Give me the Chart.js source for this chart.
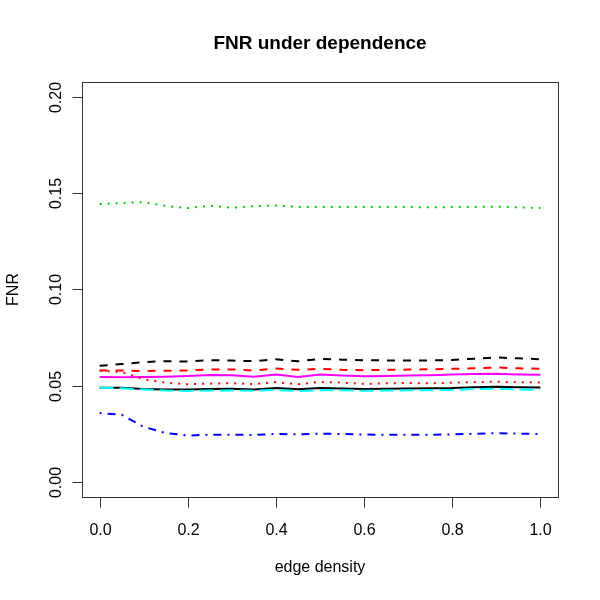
<!DOCTYPE html>
<html>
<head>
<meta charset="utf-8">
<script src="https://cdn.jsdelivr.net/npm/chart.js@4/dist/chart.umd.min.js"></script>
<style>
  html,body{margin:0;padding:0;background:#fff;}
  #wrap{width:600px;height:600px;}
</style>
</head>
<body>
<div id="wrap"><canvas id="c" width="600" height="600"></canvas></div>
<script>
// edge density grid
const density = [0,0.05,0.1,0.15,0.2,0.25,0.3,0.35,0.4,0.45,0.5,0.55,0.6,0.65,0.7,0.75,0.8,0.85,0.9,0.95,1.0];
const xTicks = [0,0.2,0.4,0.6,0.8,1.0];
const xTickLabels = ['0.0','0.2','0.4','0.6','0.8','1.0'];
const yTicks = [0,0.05,0.1,0.15,0.2];
const yTickLabels = ['0.00','0.05','0.10','0.15','0.20'];

// FNR curves, in matplot column order
const fnrBlackSolid = [0.0489,0.0489,0.0482,0.0479,0.0480,0.0482,0.0484,0.0480,0.0487,0.0481,0.0487,0.0485,0.0482,0.0484,0.0485,0.0486,0.0487,0.0491,0.0494,0.0491,0.0490];
const fnrRedDashed = [0.0578,0.0578,0.0576,0.0577,0.0579,0.0583,0.0584,0.0578,0.0589,0.0582,0.0587,0.0582,0.0580,0.0582,0.0583,0.0585,0.0587,0.0590,0.0594,0.0590,0.0587];
const fnrGreenDotted = [0.1445,0.1450,0.1455,0.1435,0.1424,0.1436,0.1425,0.1434,0.1437,0.1430,0.1430,0.1430,0.1430,0.1429,0.1429,0.1428,0.1429,0.1430,0.1431,0.1428,0.1424];
const fnrBlueDotDash = [0.0357,0.0348,0.0285,0.0253,0.0240,0.0244,0.0244,0.0243,0.0248,0.0246,0.0250,0.0248,0.0245,0.0244,0.0244,0.0244,0.0246,0.0249,0.0252,0.0250,0.0248];
const fnrCyanLongDash = [0.0488,0.0486,0.0480,0.0474,0.0472,0.0474,0.0475,0.0473,0.0477,0.0472,0.0476,0.0475,0.0473,0.0474,0.0475,0.0476,0.0477,0.0482,0.0484,0.0480,0.0477];
const fnrMagentaSolid = [0.0544,0.0543,0.0544,0.0546,0.0550,0.0555,0.0554,0.0546,0.0557,0.0545,0.0558,0.0553,0.0548,0.0550,0.0552,0.0554,0.0557,0.0560,0.0561,0.0558,0.0556];
const fnrBlackDashed = [0.0603,0.0612,0.0622,0.0627,0.0625,0.0632,0.0630,0.0627,0.0637,0.0626,0.0639,0.0635,0.0632,0.0631,0.0630,0.0631,0.0633,0.0640,0.0646,0.0642,0.0637];
const fnrRedDotted = [0.0578,0.0570,0.0533,0.0515,0.0507,0.0510,0.0512,0.0508,0.0518,0.0507,0.0519,0.0515,0.0509,0.0512,0.0513,0.0512,0.0515,0.0518,0.0520,0.0518,0.0516];

const series = [fnrBlackSolid,fnrRedDashed,fnrGreenDotted,fnrBlueDotDash,fnrCyanLongDash,fnrMagentaSolid,fnrBlackDashed,fnrRedDotted];
const colors = ['#000000','#FF0000','#00CD00','#0000FF','#00FFFF','#FF00FF','#000000','#FF0000'];
const dashes = [[],[8,8],[2,6],[2,6,8,6],[14,6],[],[8,8],[2,6]];

const datasets = series.map((s,i)=>({
  data: s.map((v,j)=>({x:density[j],y:v})),
  borderColor: colors[i], borderWidth: 2, borderDash: dashes[i],
  pointRadius: 0, tension: 0, fill: false, order: series.length - i
}));

const font = '"Liberation Sans", Arial, Helvetica, sans-serif';
const rAxes = {
  id:'rAxes',
  afterDraw(chart){
    const {ctx, chartArea:a, scales:{x,y}} = chart;
    ctx.save();
    ctx.strokeStyle='#333'; ctx.lineWidth=1;
    ctx.strokeRect(Math.round(a.left)+0.5, Math.round(a.top)+0.5, Math.round(a.right-a.left), Math.round(a.bottom-a.top));
    ctx.fillStyle='#000';
    ctx.font='16px '+font;
    ctx.textAlign='center'; ctx.textBaseline='alphabetic';
    // x axis
    const bx = Math.round(a.bottom)+0.5;
    ctx.beginPath();
    ctx.moveTo(Math.round(x.getPixelForValue(xTicks[0]))+0.5,bx);
    ctx.lineTo(Math.round(x.getPixelForValue(xTicks[xTicks.length-1]))+0.5,bx);
    xTicks.forEach((t,i)=>{
      const px=Math.round(x.getPixelForValue(t))+0.5;
      ctx.moveTo(px,bx); ctx.lineTo(px,bx+10);
      ctx.fillText(xTickLabels[i],px,535);
    });
    ctx.stroke();
    // y axis
    const lx = Math.round(a.left)+0.5;
    ctx.beginPath();
    ctx.moveTo(lx,Math.round(y.getPixelForValue(yTicks[0]))+0.5);
    ctx.lineTo(lx,Math.round(y.getPixelForValue(yTicks[yTicks.length-1]))+0.5);
    yTicks.forEach((t,i)=>{
      const py=Math.round(y.getPixelForValue(t))+0.5;
      ctx.moveTo(lx,py); ctx.lineTo(lx-10,py);
      ctx.save(); ctx.translate(61,py); ctx.rotate(-Math.PI/2);
      ctx.fillText(yTickLabels[i],0,0); ctx.restore();
    });
    ctx.stroke();
    // axis titles
    const cx=(a.left+a.right)/2, cy=(a.top+a.bottom)/2;
    ctx.fillText('edge density',cx,572);
    ctx.save(); ctx.translate(18,cy); ctx.rotate(-Math.PI/2);
    ctx.fillText('FNR',0,0); ctx.restore();
    ctx.font='bold 19px '+font;
    ctx.fillText('FNR under dependence',cx,49);
    ctx.restore();
  }
};

new Chart(document.getElementById('c'),{
  type:'line',
  data:{datasets},
  options:{
    responsive:false, animation:false,
    layout:{padding:{left:82,right:42,top:82,bottom:103}},
    plugins:{legend:{display:false},tooltip:{enabled:false},title:{display:false}},
    scales:{
      x:{type:'linear',min:-0.04,max:1.04,display:false},
      y:{type:'linear',min:-0.008,max:0.208,display:false}
    }
  },
  plugins:[rAxes]
});
</script>
</body>
</html>
